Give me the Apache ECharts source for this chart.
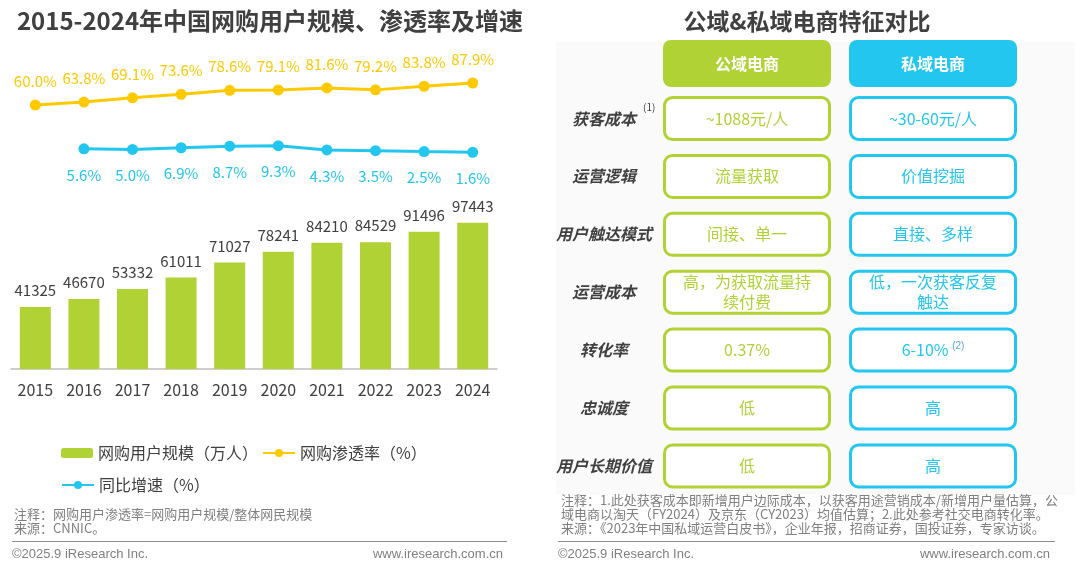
<!DOCTYPE html>
<html lang="zh">
<head>
<meta charset="UTF-8">
<title>网购用户规模与公域私域电商对比</title>
<script src="https://cdn.jsdelivr.net/npm/echarts@6/dist/echarts.min.js"></script>
<style>
    html, body { margin: 0; padding: 0; background: #fff; }
    #main { width: 1080px; height: 569px; }
</style>
</head>
<body>
<div id="main"></div>
<script>
    // 左图数据
    const years = ['2015', '2016', '2017', '2018', '2019', '2020', '2021', '2022', '2023', '2024'];
    const users = [41325, 46670, 53332, 61011, 71027, 78241, 84210, 84529, 91496, 97443];
    const penetration = [60.0, 63.8, 69.1, 73.6, 78.6, 79.1, 81.6, 79.2, 83.8, 87.9];
    const growth = [null, 5.6, 5.0, 6.9, 8.7, 9.3, 4.3, 3.5, 2.5, 1.6];

    // 右侧对比表
    const headers = ['公域电商', '私域电商'];
    const rowNames = ['获客成本', '运营逻辑', '用户触达模式', '运营成本', '转化率', '忠诚度', '用户长期价值'];
    const rowNotes = ['(1)', '', '', '', '', '', ''];
    const publicVals = ['~1088元/人', '流量获取', '间接、单一', '高，为获取流量持\n续付费', '0.37%', '低', '低'];
    const privateVals = ['~30-60元/人', '价值挖掘', '直接、多样', '低，一次获客反复\n触达', '6-10%', '高', '高'];
    const privateNotes = ['', '', '', '', '(2)', '', ''];

    const GREEN = '#B0D235';
    const YELLOW = '#FFC900';
    const BLUE = '#22C6EE';
    const DARK = '#404040';
    const GRAY = '#7f7f7f';
    const CJK = '"Noto Sans CJK SC", "Noto Sans", sans-serif';

    let myChart = echarts.init(document.getElementById('main'));

    const ctx = document.createElement('canvas').getContext('2d');
    function textWidth(t, font) {
        ctx.font = font;
        return ctx.measureText(t).width;
    }

    let graphics = [];
    function addText(t, x, y, font, fill, align, vAlign, extra) {
        graphics.push({
            type: 'text', z: 10,
            style: Object.assign({
                text: t, x: x, y: y, font: font, fill: fill,
                textAlign: align || 'center', textVerticalAlign: vAlign || 'middle'
            }, extra || {})
        });
    }

    // 标题
    addText('2015-2024年中国网购用户规模、渗透率及增速', 270, 21, 'bold 24px ' + CJK, DARK);
    addText('公域&私域电商特征对比', 807, 21, 'bold 23px ' + CJK, DARK);

    // 右侧浅色背景
    graphics.push({
        type: 'rect', z: 1,
        shape: {x: 556, y: 42, width: 519, height: 453},
        style: {fill: '#fafafa'}
    });

    const colX = [663, 849];
    const colW = 168;
    const colColors = [GREEN, BLUE];
    headers.forEach(function (h, c) {
        graphics.push({
            type: 'rect', z: 5,
            shape: {x: colX[c], y: 40, width: colW, height: 47, r: 8},
            style: {fill: colColors[c]}
        });
        addText(h, colX[c] + colW / 2, 63.5, 'bold 16px ' + CJK, '#ffffff');
    });

    const labelFont = 'italic bold 16px ' + CJK;
    rowNames.forEach(function (name, i) {
        let top = 96 + i * 57.9;
        let cy = top + 22.5;
        addText(name, 604, cy, labelFont, DARK);
        if (rowNotes[i]) {
            let w = textWidth(name, labelFont);
            addText(rowNotes[i], 604 + w / 2 + 7, cy - 11, '10px ' + CJK, DARK, 'left');
        }
        [publicVals, privateVals].forEach(function (vals, c) {
            graphics.push({
                type: 'rect', z: 5,
                shape: {x: colX[c] + 1.5, y: top + 1.5, width: colW - 3, height: 42, r: 8},
                style: {fill: '#ffffff', stroke: colColors[c], lineWidth: 3}
            });
            let note = c === 1 ? privateNotes[i] : '';
            if (note) {
                graphics.push({
                    type: 'text', z: 10,
                    style: {
                        text: vals[i] + ' {sup|' + note + '}',
                        x: colX[c] + colW / 2, y: cy,
                        font: '16px ' + CJK, fill: colColors[c],
                        textAlign: 'center', textVerticalAlign: 'middle',
                        rich: {sup: {fontSize: 10, fill: '#5aa9c8', verticalAlign: 'top', padding: [0, 0, 8, 0]}}
                    }
                });
            } else {
                addText(vals[i], colX[c] + colW / 2, cy, '16px ' + CJK, colColors[c], 'center', 'middle', {lineHeight: 20});
            }
        });
    });

    // 注释与来源
    const noteFont = '13px ' + CJK;
    addText('注释：网购用户渗透率=网购用户规模/整体网民规模', 14, 514, noteFont, GRAY, 'left');
    addText('来源：CNNIC。', 14, 528, noteFont, GRAY, 'left');
    addText('注释：1.此处获客成本即新增用户边际成本，以获客用途营销成本/新增用户量估算，公', 561, 500, noteFont, GRAY, 'left');
    addText('域电商以淘天（FY2024）及京东（CY2023）均值估算；2.此处参考社交电商转化率。', 561, 514, noteFont, GRAY, 'left');
    addText('来源：《2023年中国私域运营白皮书》，企业年报，招商证券，国投证券，专家访谈。', 561, 528, noteFont, GRAY, 'left');

    [[12, 507], [558, 1055]].forEach(function (seg) {
        graphics.push({
            type: 'line', z: 5,
            shape: {x1: seg[0], y1: 541.5, x2: seg[1], y2: 541.5},
            style: {stroke: '#8c8c8c', lineWidth: 1}
        });
    });
    const footFont = '13px "Liberation Sans", Arial, sans-serif';
    addText('©2025.9 iResearch Inc.', 12, 554, footFont, GRAY, 'left');
    addText('www.iresearch.com.cn', 503, 554, footFont, GRAY, 'right');
    addText('©2025.9 iResearch Inc.', 558, 554, footFont, GRAY, 'left');
    addText('www.iresearch.com.cn', 1050, 554, footFont, GRAY, 'right');

    function hiddenX(idx) {
        return {type: 'category', gridIndex: idx, data: years, show: false, boundaryGap: true};
    }

    let option = {
        animation: false,
        textStyle: {fontFamily: CJK},
        grid: [
            {left: 11, width: 486, top: 219, height: 150},
            {left: 11, width: 486, top: 70, height: 50},
            {left: 11, width: 486, top: 130, height: 40}
        ],
        xAxis: [
            {
                type: 'category', gridIndex: 0, data: years,
                axisLine: {lineStyle: {color: '#bfbfbf', width: 1.5}},
                axisTick: {show: false},
                axisLabel: {color: DARK, fontSize: 16, margin: 13}
            },
            hiddenX(1),
            hiddenX(2)
        ],
        yAxis: [
            {type: 'value', gridIndex: 0, min: 0, max: 100000, show: false},
            {type: 'value', gridIndex: 1, min: 41, max: 104.4, show: false},
            {type: 'value', gridIndex: 2, min: -19.05, max: 27.6, show: false}
        ],
        legend: [
            {
                data: ['网购用户规模（万人）', '网购渗透率（%）'],
                left: 56, top: 440, itemWidth: 32, itemHeight: 10, itemGap: 4,
                textStyle: {color: DARK, fontSize: 16}
            },
            {
                data: ['同比增速（%）'],
                left: 56, top: 472, itemWidth: 32, itemHeight: 10,
                textStyle: {color: DARK, fontSize: 16}
            }
        ],
        series: [
            {
                name: '网购用户规模（万人）',
                type: 'bar',
                xAxisIndex: 0, yAxisIndex: 0,
                barWidth: 31,
                data: users,
                itemStyle: {color: GREEN},
                label: {show: true, position: 'top', distance: 9, color: DARK, fontSize: 15}
            },
            {
                name: '网购渗透率（%）',
                type: 'line',
                xAxisIndex: 1, yAxisIndex: 1,
                data: penetration,
                symbol: 'circle', symbolSize: 11,
                lineStyle: {color: YELLOW, width: 3},
                itemStyle: {color: YELLOW},
                label: {
                    show: true, position: 'top', distance: 11, color: YELLOW, fontSize: 15,
                    formatter: function (p) { return p.value.toFixed(1) + '%'; }
                }
            },
            {
                name: '同比增速（%）',
                type: 'line',
                xAxisIndex: 2, yAxisIndex: 2,
                data: growth,
                symbol: 'circle', symbolSize: 11,
                lineStyle: {color: BLUE, width: 3},
                itemStyle: {color: BLUE},
                label: {
                    show: true, position: 'bottom', distance: 13, color: BLUE, fontSize: 15,
                    formatter: function (p) { return p.value.toFixed(1) + '%'; }
                }
            }
        ],
        graphic: graphics
    };
    myChart.setOption(option);
</script>
</body>
</html>
